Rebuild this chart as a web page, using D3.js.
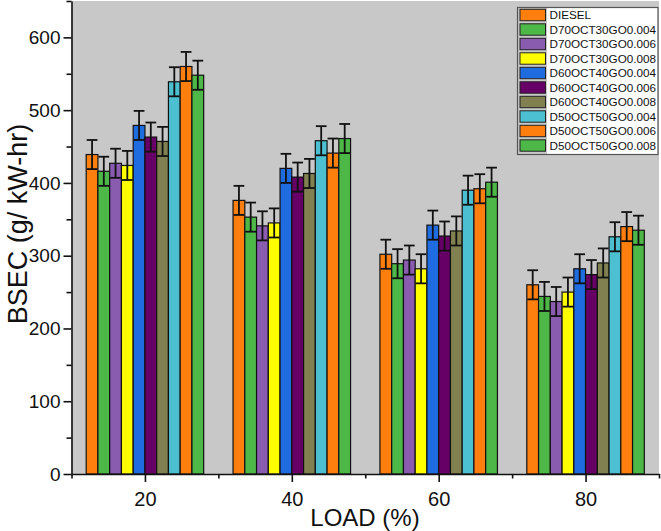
<!DOCTYPE html>
<html><head><meta charset="utf-8">
<script src="https://cdn.jsdelivr.net/npm/d3@7"></script>
<style>body{margin:0;background:#fff;} svg{display:block;font-family:Arial,"Liberation Sans",sans-serif;}</style>
</head><body>
<svg id="c" width="661" height="531"></svg>
<script>
const loads = [20, 40, 60, 80];
const seriesNames = ["DIESEL","D70OCT30GO0.004","D70OCT30GO0.006","D70OCT30GO0.008","D60OCT40GO0.004","D60OCT40GO0.006","D60OCT40GO0.008","D50OCT50GO0.004","D50OCT50GO0.006","D50OCT50GO0.008"];
const colors = ["#ff7f0e","#4db848","#8a5cb0","#ffff00","#1f6be0","#660066","#808050","#4cc0d0","#ff7f0e","#4db848"];
const DIESEL = [439, 376, 302, 260];
const D70_004 = [416, 353, 289, 244];
const D70_006 = [427, 341, 294, 237];
const D70_008 = [424, 345, 282, 250];
const D60_004 = [479, 420, 342, 282];
const D60_006 = [463, 408, 327, 274];
const D60_008 = [457, 413, 334, 290];
const D50_004 = [539, 458, 390, 326];
const D50_006 = [560, 441, 392, 340];
const D50_008 = [548, 461, 401, 335];
const errs = [20, 20, 20, 20];
const values = [DIESEL, D70_004, D70_006, D70_008, D60_004, D60_006, D60_008, D50_004, D50_006, D50_008];
const yMajor = [0,100,200,300,400,500,600];
const yMinor = [50,150,250,350,450,550,650];
const xMajor = [20,40,60,80];
const xMinor = [10,30,50,70,90];

const svg = d3.select("#c");
const x = d3.scaleLinear().domain([10, 90]).range([71.5, 659]);
const y = d3.scaleLinear().domain([0, 650]).range([474, 1]);
const groupW = 16, barU = groupW / seriesNames.length;

svg.append("rect").attr("x", x(10)).attr("y", y(650)).attr("width", x(90)-x(10)).attr("height", y(0)-y(650)).attr("fill", "#c8c8c8");

const data = [];
values.forEach((arr, si) => arr.forEach((v, li) => data.push({si, load: loads[li], v, e: errs[li]})));

const g = svg.append("g");
data.forEach(d => {
  const x0 = x(d.load - groupW/2 + d.si*barU), x1 = x(d.load - groupW/2 + (d.si+1)*barU);
  g.append("rect").attr("x", x0).attr("y", y(d.v)).attr("width", x1-x0).attr("height", y(0)-y(d.v))
    .attr("fill", colors[d.si]).attr("stroke", "#111").attr("stroke-width", 1.2);
});
data.forEach(d => {
  const x0 = x(d.load - groupW/2 + d.si*barU), x1 = x(d.load - groupW/2 + (d.si+1)*barU);
  const cx = (x0+x1)/2, hw = (x1-x0)/2 - 0.5;
  const eg = g.append("g").attr("stroke", "#111").attr("stroke-width", 1.8).attr("fill","none");
  eg.append("line").attr("x1", cx).attr("x2", cx).attr("y1", y(d.v+d.e)).attr("y2", y(d.v-d.e));
  eg.append("line").attr("x1", cx-hw).attr("x2", cx+hw).attr("y1", y(d.v+d.e)).attr("y2", y(d.v+d.e));
  eg.append("line").attr("x1", cx-hw).attr("x2", cx+hw).attr("y1", y(d.v-d.e)).attr("y2", y(d.v-d.e));
});

function styleAxis(sel){ sel.selectAll("path,line").attr("stroke","#111").attr("stroke-width",1.6); sel.selectAll("text").attr("fill","#111").attr("font-family","Arial, 'Liberation Sans', sans-serif"); }
svg.append("g").attr("transform", `translate(${x(10)},0)`).call(d3.axisLeft(y).tickValues(yMajor).tickSize(8).tickSizeOuter(0).tickPadding(3)).call(styleAxis).selectAll("text").attr("font-size", 19);
svg.append("g").attr("transform", `translate(${x(10)},0)`).call(d3.axisLeft(y).tickValues(yMinor).tickSize(5).tickFormat("")).call(styleAxis).select(".domain").remove();
svg.append("g").attr("transform", `translate(0,${y(0)})`).call(d3.axisBottom(x).tickValues(xMajor).tickSize(8).tickSizeOuter(0).tickPadding(10)).call(styleAxis).selectAll("text").attr("font-size", 20);
svg.append("g").attr("transform", `translate(0,${y(0)})`).call(d3.axisBottom(x).tickValues(xMinor).tickSize(4.5).tickFormat("")).call(styleAxis).select(".domain").remove();

svg.append("text").attr("x", 365).attr("y", 526).attr("text-anchor","middle").attr("font-size", 24).attr("fill","#111").text("LOAD (%)");
svg.append("text").attr("transform", "translate(27,224) rotate(-90)").attr("text-anchor","middle").attr("font-size", 27).attr("fill","#111").text("BSEC (g/ kW-hr)");

// legend
const lg = svg.append("g");
lg.append("rect").attr("x", 547).attr("y", 7.5).attr("width", 111).attr("height", 147).attr("fill", "#fff");
lg.append("rect").attr("x", 517.5).attr("y", 7.5).attr("width", 140.5).attr("height", 147).attr("fill", "none").attr("stroke", "#555").attr("stroke-width", 1.2);
seriesNames.forEach((n, i) => {
  const cy = 15 + i*14.5;
  lg.append("rect").attr("x", 520).attr("y", cy-5.7).attr("width", 25.5).attr("height", 11.4).attr("fill", colors[i]).attr("stroke","#222").attr("stroke-width",1);
  lg.append("text").attr("x", 549.5).attr("y", cy+4.2).attr("font-size", 11.7).attr("fill","#111").text(n);
});
</script>
</body></html>
